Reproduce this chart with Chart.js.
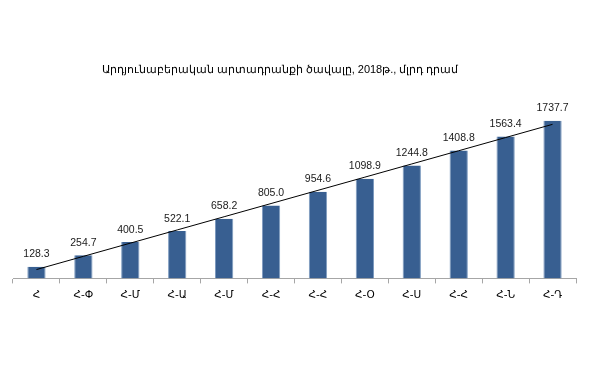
<!DOCTYPE html>
<html>
<head>
<meta charset="utf-8">
<script src="https://cdn.jsdelivr.net/npm/chart.js@4"></script>
<style>
  html, body { margin: 0; padding: 0; background: #fff; }
  #wrap { width: 590px; height: 370px; }
</style>
</head>
<body>
<div id="wrap"><canvas id="c"></canvas></div>
<script>
// months, cumulative from January
const months = ["Հ", "Հ-Փ", "Հ-Մ", "Հ-Ա", "Հ-Մ", "Հ-Հ", "Հ-Հ", "Հ-Օ", "Հ-Ս", "Հ-Հ", "Հ-Ն", "Հ-Դ"];
const volume = [128.3, 254.7, 400.5, 522.1, 658.2, 805.0, 954.6, 1098.9, 1244.8, 1408.8, 1563.4, 1737.7];
const titleText = "Արդյունաբերական արտադրանքի ծավալը, 2018թ., մլրդ դրամ";

// linear trendline (like the excel one) fitted to the volume series
function trend(vals) {
  const n = vals.length;
  const mx = (n + 1) / 2;
  const my = vals.reduce((a, b) => a + b, 0) / n;
  let sxy = 0, sxx = 0;
  vals.forEach((v, i) => { sxy += (i + 1 - mx) * v; sxx += (i + 1 - mx) ** 2; });
  const k = sxy / sxx;
  return vals.map((v, i) => my + k * (i + 1 - mx));
}

// value labels over the bars + the title (excel put it a bit left of centre)
const extras = {
  id: "extras",
  afterDatasetsDraw(chart) {
    const ctx = chart.ctx;
    const meta = chart.getDatasetMeta(1);
    ctx.save();
    ctx.font = "10.5px 'Liberation Sans', Arial, sans-serif";
    ctx.fillStyle = "#1a1a1a";
    ctx.textAlign = "center";
    ctx.textBaseline = "bottom";
    meta.data.forEach((bar, i) => {
      ctx.fillText(volume[i].toFixed(1), bar.x, bar.y - 7);
    });
    ctx.font = "11px 'Liberation Sans', Arial, sans-serif";
    ctx.fillStyle = "#000";
    ctx.textBaseline = "middle";
    ctx.fillText(titleText, 280, 70);
    ctx.restore();
  }
};

new Chart(document.getElementById("c"), {
  data: {
    labels: months,
    datasets: [
      {
        type: "line",
        data: trend(volume),
        borderColor: "#000",
        borderWidth: 1,
        pointRadius: 0,
        fill: false,
        order: 0
      },
      {
        type: "bar",
        data: volume,
        backgroundColor: "#385f91",
        borderColor: "#7f9cc0",
        borderWidth: { left: 1, right: 1, top: 0, bottom: 0 },
        barPercentage: 0.39,
        categoryPercentage: 1,
        order: 1
      }
    ]
  },
  options: {
    responsive: true,
    maintainAspectRatio: false,
    animation: false,
    layout: { padding: { left: 13, right: 14, top: 97, bottom: 62 } },
    plugins: {
      legend: { display: false },
      tooltip: { enabled: false },
      title: { display: false }
    },
    scales: {
      x: {
        grid: { drawOnChartArea: false, drawTicks: true, tickLength: 5, color: "#a6a6a6" },
        border: { display: true, color: "#a6a6a6" },
        ticks: { color: "#000", padding: 6, font: { family: "'DejaVu Sans', sans-serif", size: 10.5 } }
      },
      y: { display: false, min: 0, max: 2000 }
    }
  },
  plugins: [extras]
});
</script>
</body>
</html>
